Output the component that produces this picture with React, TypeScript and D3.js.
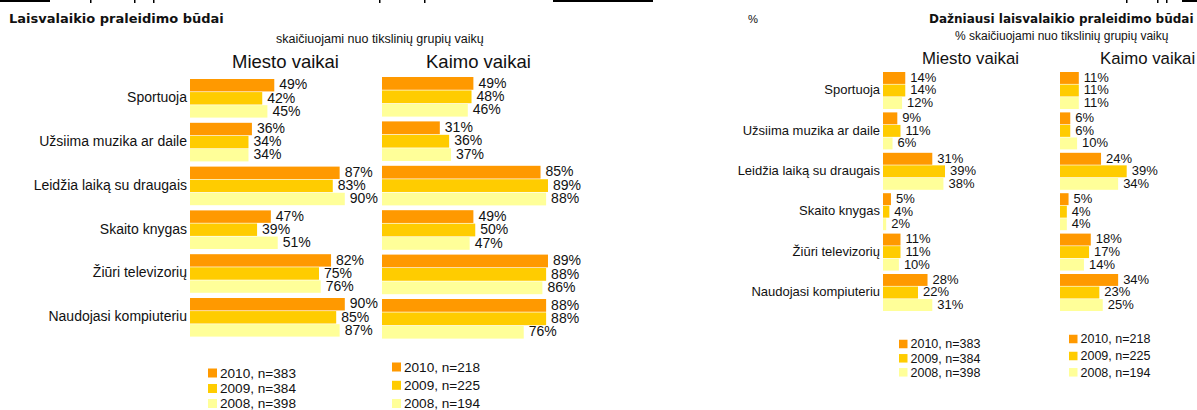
import React from "react";
import * as d3 from "d3";

const categories = [
  "Sportuoja",
  "Užsiima muzika ar daile",
  "Leidžia laiką su draugais",
  "Skaito knygas",
  "Žiūri televizorių",
  "Naudojasi kompiuteriu",
];
const years = ["2010", "2009", "2008"];
const yearColors = ["#FF9900", "#FFCC00", "#FFFF99"];

const cityLegend = ["2010, n=383", "2009, n=384", "2008, n=398"];
const villageLegend = ["2010, n=218", "2009, n=225", "2008, n=194"];

// All leisure activities (left chart), values per category: [2010, 2009, 2008]
const allCity2010 = [49, 36, 87, 47, 82, 90];
const allCity2009 = [42, 34, 83, 39, 75, 85];
const allCity2008 = [45, 34, 90, 51, 76, 87];
const allVillage2010 = [49, 31, 85, 49, 89, 88];
const allVillage2009 = [48, 36, 89, 50, 88, 88];
const allVillage2008 = [46, 37, 88, 47, 86, 76];

// Most frequent leisure activities (right chart)
const topCity2010 = [14, 9, 31, 5, 11, 28];
const topCity2009 = [14, 11, 39, 4, 11, 22];
const topCity2008 = [12, 6, 38, 2, 10, 31];
const topVillage2010 = [11, 6, 24, 5, 18, 34];
const topVillage2009 = [11, 6, 39, 4, 17, 23];
const topVillage2008 = [11, 10, 34, 4, 14, 25];

const FONT = "'Liberation Sans', Arial, sans-serif";
const BOLD = "'DejaVu Sans', Verdana, sans-serif";
const INK = "#111";

type PanelProps = {
  series: number[][];
  x0: number;
  pxPerPct: number;
  y0: number;
  step: number;
  groupH: number;
  fontSize: number;
  legend: string[];
  legendX: number;
  legendYs: number[];
  legendSq: number;
  legendFont: number;
};

function Panel(p: PanelProps) {
  const n = categories.length;
  const x = d3.scaleLinear().domain([0, 100]).range([p.x0, p.x0 + p.pxPerPct * 100]);
  const pi = 1 - p.groupH / p.step;
  const po = pi / 2;
  const start = p.y0 - po * p.step;
  const y = d3
    .scaleBand<string>()
    .domain(categories)
    .range([start, start + n * p.step])
    .paddingInner(pi)
    .paddingOuter(po);
  const yi = d3.scaleBand<string>().domain(years).range([0, y.bandwidth()]).paddingInner(0.05);
  return (
    <g>
      {categories.map((c, ci) => (
        <g key={c}>
          {years.map((yr, si) => {
            const v = p.series[si][ci];
            const top = (y(c) as number) + (yi(yr) as number);
            const h = yi.bandwidth();
            return (
              <g key={yr}>
                <rect x={x(0)} y={top} width={x(v) - x(0)} height={h} fill={yearColors[si]} />
                <text
                  x={x(v) + 5}
                  y={top + h / 2 + p.fontSize * 0.3}
                  fontSize={p.fontSize}
                  fontFamily={FONT}
                  fill={INK}
                >
                  {v}%
                </text>
              </g>
            );
          })}
        </g>
      ))}
      {p.legend.map((l, i) => (
        <g key={l}>
          <rect
            x={p.legendX}
            y={p.legendYs[i] - p.legendSq / 2}
            width={p.legendSq}
            height={p.legendSq}
            fill={yearColors[i]}
          />
          <text
            x={p.legendX + p.legendSq + 3}
            y={p.legendYs[i] + p.legendFont * 0.35}
            fontSize={p.legendFont}
            fontFamily={FONT}
            fill={INK}
          >
            {l}
          </text>
        </g>
      ))}
    </g>
  );
}

function CategoryLabels(props: { xRight: number; y0: number; step: number; groupH: number; fontSize: number }) {
  const n = categories.length;
  const pi = 1 - props.groupH / props.step;
  const po = pi / 2;
  const start = props.y0 - po * props.step;
  const y = d3
    .scaleBand<string>()
    .domain(categories)
    .range([start, start + n * props.step])
    .paddingInner(pi)
    .paddingOuter(po);
  return (
    <g>
      {categories.map((c) => (
        <text
          key={c}
          x={props.xRight}
          y={(y(c) as number) + y.bandwidth() / 2 + props.fontSize * 0.28}
          textAnchor="end"
          fontSize={props.fontSize}
          fontFamily={FONT}
          fill={INK}
        >
          {c}
        </text>
      ))}
    </g>
  );
}

export default function App() {
  const tickXs = [90, 134, 153, 379, 424, 1126, 1157, 1166];
  return (
    <svg
      width={1197}
      height={410}
      style={{ position: "absolute", left: 0, top: 0, background: "#fff" }}
    >
      <rect x={0} y={0} width={1197} height={410} fill="#fff" />
      {/* cut-off fragments at top edge */}
      <rect x={0} y={0} width={50} height={2} fill="#000" />
      <rect x={553} y={0} width={100} height={2} fill="#000" />
      <rect x={1182} y={0} width={15} height={2} fill="#000" />
      {tickXs.map((t) => (
        <rect key={t} x={t} y={0} width={1.5} height={3} fill="#000" />
      ))}

      {/* Left chart */}
      <text x={9} y={23} fontSize={13} fontWeight="bold" fontFamily={BOLD} fill={INK}>
        Laisvalaikio praleidimo būdai
      </text>
      <text x={276} y={43} fontSize={12.5} fontFamily={FONT} fill={INK}>
        skaičiuojami nuo tikslinių grupių vaikų
      </text>
      <text x={232} y={68} fontSize={18.5} fontFamily={FONT} fill={INK}>
        Miesto vaikai
      </text>
      <text x={426} y={68} fontSize={18.5} fontFamily={FONT} fill={INK}>
        Kaimo vaikai
      </text>
      <CategoryLabels xRight={187} y0={79} step={43.8} groupH={38.6} fontSize={14} />
      <Panel
        series={[allCity2010, allCity2009, allCity2008]}
        x0={190}
        pxPerPct={1.72}
        y0={79}
        step={43.8}
        groupH={38.6}
        fontSize={14}
        legend={cityLegend}
        legendX={208}
        legendYs={[373, 388.5, 403.5]}
        legendSq={9}
        legendFont={13.6}
      />
      <Panel
        series={[allVillage2010, allVillage2009, allVillage2008]}
        x0={382}
        pxPerPct={1.865}
        y0={77}
        step={44.4}
        groupH={39.6}
        fontSize={14}
        legend={villageLegend}
        legendX={392}
        legendYs={[367, 385.3, 403.5]}
        legendSq={9}
        legendFont={13.6}
      />

      {/* Right chart */}
      <text x={748} y={23} fontSize={11.2} fontFamily={FONT} fill={INK}>
        %
      </text>
      <text x={929} y={23} fontSize={12} fontWeight="bold" fontFamily={BOLD} fill={INK}>
        Dažniausi laisvalaikio praleidimo būdai
      </text>
      <text x={955} y={39.5} fontSize={12} fontFamily={FONT} fill={INK}>
        % skaičiuojami nuo tikslinių grupių vaikų
      </text>
      <text x={922} y={63.5} fontSize={16.8} fontFamily={FONT} fill={INK}>
        Miesto vaikai
      </text>
      <text x={1100} y={63.5} fontSize={16.8} fontFamily={FONT} fill={INK}>
        Kaimo vaikai
      </text>
      <CategoryLabels xRight={880} y0={72} step={40.4} groupH={37} fontSize={13} />
      <Panel
        series={[topCity2010, topCity2009, topCity2008]}
        x0={883}
        pxPerPct={1.59}
        y0={72}
        step={40.4}
        groupH={37}
        fontSize={13}
        legend={cityLegend}
        legendX={899}
        legendYs={[344, 358.3, 372.3]}
        legendSq={8.5}
        legendFont={12.5}
      />
      <Panel
        series={[topVillage2010, topVillage2009, topVillage2008]}
        x0={1060}
        pxPerPct={1.71}
        y0={72}
        step={40.4}
        groupH={37}
        fontSize={13}
        legend={villageLegend}
        legendX={1069}
        legendYs={[339, 356, 372.3]}
        legendSq={8.5}
        legendFont={12.5}
      />
    </svg>
  );
}
